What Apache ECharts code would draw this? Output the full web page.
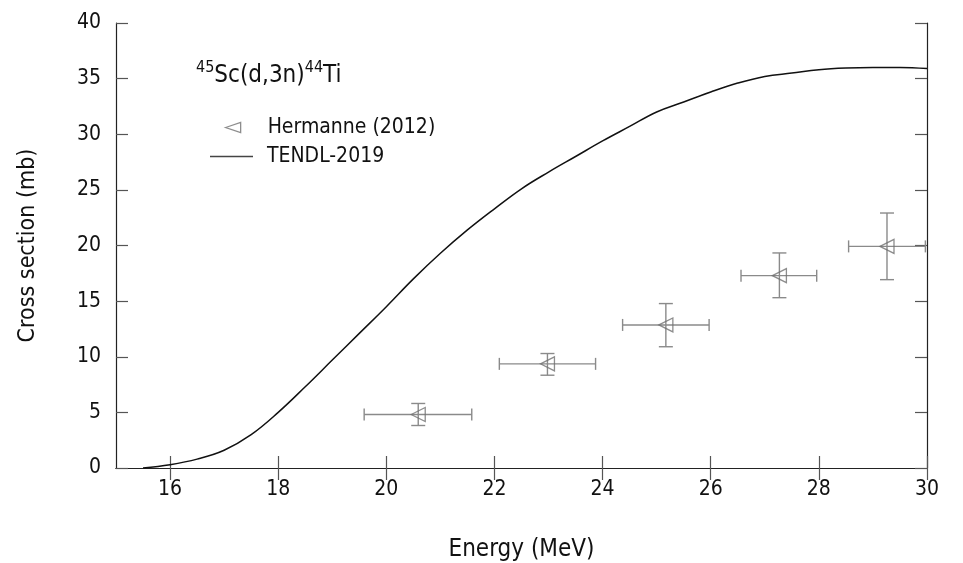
<!DOCTYPE html>
<html>
<head>
<meta charset="utf-8">
<script src="https://cdn.jsdelivr.net/npm/echarts@6/dist/echarts.min.js"></script>
<style>
html,body{margin:0;padding:0;background:#fff;}
#chart{width:963px;height:563px;}
</style>
</head>
<body>
<div id="chart"></div>
<script>
// TENDL-2019 evaluation
const tendlE = [15.5, 16, 16.5, 17, 17.5, 18, 18.5, 19, 19.5, 20, 20.5, 21, 21.5, 22, 22.5, 23, 23.5, 24, 24.5, 25, 25.5, 26, 26.5, 27, 27.5, 28, 28.5, 29, 29.5, 30];
const tendlXS = [0, 0.3, 0.8, 1.6, 3.0, 5.0, 7.3, 9.7, 12.1, 14.5, 17.0, 19.3, 21.4, 23.3, 25.1, 26.6, 28.0, 29.4, 30.7, 32.0, 32.9, 33.8, 34.6, 35.2, 35.5, 35.8, 35.95, 36.0, 36.0, 35.9];

// Hermanne (2012) experimental data
const hermE    = [20.59, 22.98, 25.17, 27.27, 29.26];
const hermXS   = [4.81, 9.36, 12.86, 17.29, 19.92];
const hermElo  = [19.59, 22.09, 24.37, 26.56, 28.55];
const hermEhi  = [21.58, 23.87, 25.97, 27.96, 29.97];
const hermXSlo = [3.82, 8.34, 10.9, 15.31, 16.93];
const hermXShi = [5.8, 10.29, 14.78, 19.33, 22.92];

const xTicks = [16, 18, 20, 22, 24, 26, 28, 30];

const FONT = "'DejaVu Sans Condensed', 'DejaVu Sans'";
const errColor = '#8a8a8a';
const markColor = '#707070';
const triPath = 'path://M0,5 L15,0 L15,10 Z';

const chart = echarts.init(document.getElementById('chart'), null, {renderer: 'canvas'});

const errData = hermE.map((e, i) => [e, hermXS[i], hermElo[i], hermEhi[i], hermXSlo[i], hermXShi[i]]);

const axisLine = {show: true, lineStyle: {color: '#222', width: 1.2}};
const tickStyle = {color: '#555', width: 1.2};

const option = {
  animation: false,
  backgroundColor: '#fff',
  textStyle: {fontFamily: FONT},
  grid: {left: 116, right: 36, top: 23, bottom: 95, containLabel: false, outerBoundsMode: 'none'},
  xAxis: [{
    type: 'value', min: 15, max: 30, position: 'bottom',
    axisLine: axisLine,
    axisTick: {show: true, inside: true, length: 12, lineStyle: tickStyle, customValues: xTicks},
    axisLabel: {show: true, fontSize: 21, color: '#111', margin: 11, fontFamily: FONT, customValues: xTicks},
    splitLine: {show: false},
    name: 'Energy (MeV)', nameLocation: 'middle', nameGap: 70,
    nameTextStyle: {fontSize: 24, color: '#111', fontFamily: FONT}
  }, {
    type: 'value', min: 15, max: 30, position: 'top',
    axisLine: axisLine,
    axisTick: {show: true, inside: true, length: 12, lineStyle: tickStyle, customValues: xTicks},
    axisLabel: {show: false},
    splitLine: {show: false}
  }],
  yAxis: [{
    type: 'value', min: 0, max: 40, interval: 5, position: 'left',
    axisLine: axisLine,
    axisTick: {show: true, inside: true, length: 12, lineStyle: tickStyle},
    axisLabel: {show: true, fontSize: 21, color: '#111', margin: 15, fontFamily: FONT},
    splitLine: {show: false},
    name: 'Cross section (mb)', nameLocation: 'middle', nameGap: 76,
    nameTextStyle: {fontSize: 23, color: '#111', fontFamily: FONT}
  }, {
    type: 'value', min: 0, max: 40, interval: 5, position: 'right',
    axisLine: axisLine,
    axisTick: {show: true, inside: true, length: 12, lineStyle: tickStyle},
    axisLabel: {show: false},
    splitLine: {show: false}
  }],
  legend: [{
    data: [{name: 'Hermanne (2012)', icon: triPath,
            itemStyle: {color: 'rgba(0,0,0,0)', borderColor: markColor, borderWidth: 1.3}}],
    left: 220, top: 112, orient: 'vertical',
    itemWidth: 15, itemHeight: 10, symbolKeepAspect: true,
    textStyle: {fontSize: 21, color: '#111', fontFamily: FONT, padding: [0, 0, 0, 22]},
    selectedMode: false
  }, {
    data: [{name: 'TENDL-2019', icon: 'rect', itemStyle: {color: '#444'}}],
    left: 205, top: 141, orient: 'vertical',
    itemWidth: 43, itemHeight: 1.5, symbolKeepAspect: false,
    textStyle: {fontSize: 21, color: '#111', fontFamily: FONT, padding: [0, 0, 0, 9]},
    selectedMode: false
  }],
  graphic: [{
    type: 'text', left: 196, top: 60, silent: true,
    style: {
      text: '{sup|45}{m|Sc(d,3n)}{sup|44}{m|Ti}',
      rich: {
        sup: {fontSize: 16, fontFamily: FONT, fill: '#111', verticalAlign: 'top', lineHeight: 28},
        m: {fontSize: 24, fontFamily: FONT, fill: '#111', verticalAlign: 'bottom', lineHeight: 28}
      }
    }
  }],
  series: [{
    name: 'TENDL-2019',
    type: 'line',
    data: tendlE.map((e, i) => [e, tendlXS[i]]),
    smooth: 0.4,
    symbol: 'none',
    lineStyle: {color: '#111', width: 1.5},
    itemStyle: {color: '#111'},
    z: 3
  }, {
    name: 'Hermanne (2012) errors',
    type: 'custom',
    clip: true,
    data: errData,
    renderItem: function (params, api) {
      const c = api.coord([api.value(0), api.value(1)]);
      const xl = api.coord([api.value(2), api.value(1)]);
      const xh = api.coord([api.value(3), api.value(1)]);
      const yl = api.coord([api.value(0), api.value(4)]);
      const yh = api.coord([api.value(0), api.value(5)]);
      const st = {stroke: errColor, lineWidth: 1.4, fill: null};
      const cw = 7, ch = 6;
      return {
        type: 'group',
        children: [
          {type: 'line', shape: {x1: xl[0], y1: c[1], x2: xh[0], y2: c[1]}, style: st},
          {type: 'line', shape: {x1: xl[0], y1: c[1] - ch, x2: xl[0], y2: c[1] + ch}, style: st},
          {type: 'line', shape: {x1: xh[0], y1: c[1] - ch, x2: xh[0], y2: c[1] + ch}, style: st},
          {type: 'line', shape: {x1: c[0], y1: yl[1], x2: c[0], y2: yh[1]}, style: st},
          {type: 'line', shape: {x1: c[0] - cw, y1: yl[1], x2: c[0] + cw, y2: yl[1]}, style: st},
          {type: 'line', shape: {x1: c[0] - cw, y1: yh[1], x2: c[0] + cw, y2: yh[1]}, style: st}
        ]
      };
    },
    z: 2
  }, {
    name: 'Hermanne (2012)',
    type: 'scatter',
    data: hermE.map((e, i) => [e, hermXS[i]]),
    symbol: triPath,
    symbolSize: [14, 14],
    symbolKeepAspect: false,
    itemStyle: {color: 'rgba(0,0,0,0)', borderColor: markColor, borderWidth: 1.3},
    z: 4
  }]
};
chart.setOption(option);
</script>
</body>
</html>
